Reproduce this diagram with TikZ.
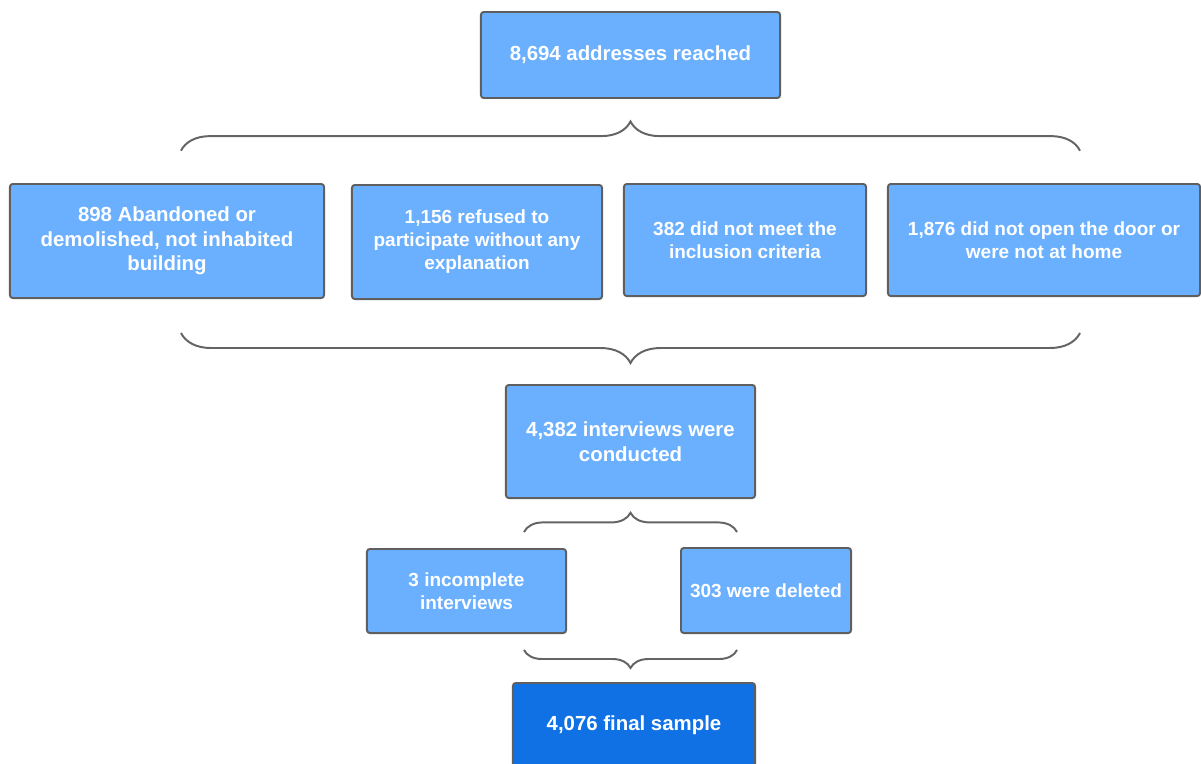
\documentclass[tikz,border=0pt]{standalone}
\usepackage{fontspec}
\setmainfont{Liberation Sans}
\usepackage{xcolor}
\usepackage{tikz}
\usetikzlibrary{decorations.pathreplacing, calc}
\definecolor{boxcolor}{RGB}{106, 176, 255}
\definecolor{finalcolor}{RGB}{16, 113, 229}
\definecolor{edgecolor}{RGB}{95, 95, 95}
\definecolor{bracecolor}{RGB}{100, 100, 100}

\begin{document}
\begin{tikzpicture}[x=0.025cm, y=-0.025cm,
        stage/.style={rectangle, draw=edgecolor, line width=1.4pt, rounded corners=2pt,
            fill=boxcolor, text=white, align=center, inner sep=2pt,
            font=\fontsize{14.5}{17.5}\selectfont\bfseries},
        smalltext/.style={font=\fontsize{13.5}{16.4}\selectfont\bfseries},
        finalbox/.style={stage, fill=finalcolor},
        bracket/.style={draw=bracecolor, line width=1.4pt, decorate,
            decoration={brace, amplitude=#1}}
    ]
        \useasboundingbox (0,0) rectangle (1201,763);

        % Addresses
        \node[stage, minimum width=7.475cm, minimum height=2.15cm] (top) at (630.5,55) {8,694 addresses reached};

        % Excluded addresses
        \node[stage, minimum width=7.85cm, minimum height=2.85cm] (aband) at (167,241)
            {898 Abandoned or\\demolished, not inhabited\\building};
        \node[stage, smalltext, minimum width=6.25cm, minimum height=2.85cm] (refused) at (477,242)
            {1,156 refused to\\participate without any\\explanation};
        \node[stage, smalltext, minimum width=6.05cm, minimum height=2.8cm] (criteria) at (745,240)
            {382 did not meet the\\inclusion criteria};
        \node[stage, smalltext, minimum width=7.8cm, minimum height=2.8cm] (notopen) at (1044,240)
            {1,876 did not open the door or\\were not at home};

        % Interviews
        \node[stage, minimum width=6.225cm, minimum height=2.825cm] (interv) at (630.5,441.5)
            {4,382 interviews were\\conducted};
        \node[stage, smalltext, minimum width=4.975cm, minimum height=2.1cm] (incompl) at (466.5,591)
            {3 incomplete\\interviews};
        \node[stage, smalltext, minimum width=4.25cm, minimum height=2.125cm] (deleted) at (766,590.5)
            {303 were deleted};

        % Final sample
        \node[finalbox, minimum width=6.05cm, minimum height=2.1cm] (final) at (634,725)
            {4,076 final sample};

        % Braces
        \coordinate (b1l) at (181,150.7);
        \coordinate (b1r) at (1080,150.7);
        \coordinate (b2l) at (181,333);
        \coordinate (b2r) at (1080,333);
        \coordinate (b3l) at (524,532);
        \coordinate (b3r) at (737,532);
        \coordinate (b4l) at (524,650);
        \coordinate (b4r) at (737,650);
        \draw[bracket=0.73cm] (b1l) -- (b1r);
        \draw[bracket=0.75cm] (b2r) -- (b2l);
        \draw[bracket=0.48cm] (b3l) -- (b3r);
        \draw[bracket=0.45cm] (b4r) -- (b4l);

    \end{tikzpicture}
\end{document}
